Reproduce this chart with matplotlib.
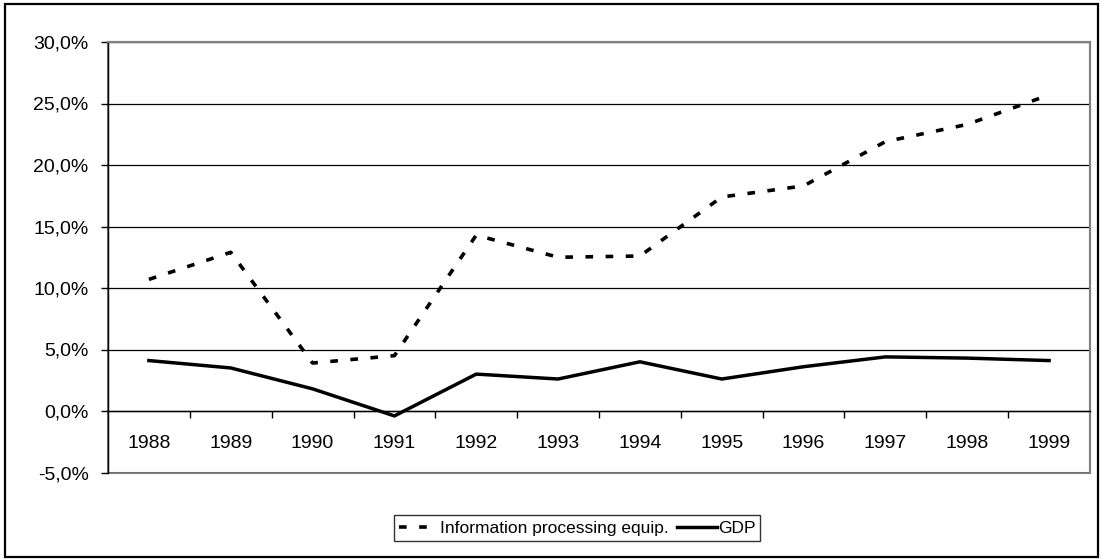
import matplotlib.pyplot as plt
from matplotlib.patches import Rectangle
from matplotlib.ticker import FixedLocator, FuncFormatter

plt.rcParams['font.family'] = ['Liberation Sans', 'DejaVu Sans']
plt.rcParams['lines.scale_dashes'] = False

# Data
years = ['1988', '1989', '1990', '1991', '1992', '1993',
         '1994', '1995', '1996', '1997', '1998', '1999']
info_equip = [10.7, 12.9, 3.9, 4.5, 14.3, 12.5, 12.6, 17.4, 18.3, 21.9, 23.3, 25.7]
gdp = [4.1, 3.5, 1.8, -0.4, 3.0, 2.6, 4.0, 2.6, 3.6, 4.4, 4.3, 4.1]
y_ticks = [-5, 0, 5, 10, 15, 20, 25, 30]

fig = plt.figure(figsize=(11.02, 5.59), dpi=100)
ax = fig.add_axes([108 / 1102, 86.5 / 559, 982 / 1102, 430.5 / 559])

x = list(range(len(years)))
l1, = ax.plot(x, info_equip, color='black', lw=2.6, dashes=(5.5, 9),
              label='Information processing equip.', zorder=4)
l2, = ax.plot(x, gdp, color='black', lw=2.5, label='GDP', zorder=4)

ax.set_xlim(-0.5, len(years) - 0.5)
ax.set_ylim(-5, 30)

# y axis
ax.set_yticks(y_ticks)
ax.yaxis.set_major_formatter(FuncFormatter(lambda v, p: ('%.1f%%' % v).replace('.', ',')))
ax.tick_params(axis='y', direction='out', length=5, width=1, labelsize=14, pad=9)
ax.yaxis.grid(True, color='black', lw=0.9)
ax.set_axisbelow(True)

# x axis sits on 0
ax.spines['bottom'].set_position(('data', 0))
ax.spines['bottom'].set_color('black')
ax.spines['bottom'].set_linewidth(1)
ax.set_xticks(x)
ax.set_xticklabels(years)
ax.xaxis.set_minor_locator(FixedLocator([i + 0.5 for i in x[:-1]]))
ax.tick_params(axis='x', which='major', length=0, labelsize=14, pad=17)
ax.tick_params(axis='x', which='minor', direction='out', length=5, width=1)

ax.spines['left'].set_color('black')
ax.spines['left'].set_linewidth(1)
for s in ['top', 'right']:
    ax.spines[s].set_color('#808080')
    ax.spines[s].set_linewidth(1.5)
ax.add_patch(Rectangle((0, 0), 1, 1, transform=ax.transAxes, fill=False,
                       ec='#808080', lw=1.5, clip_on=False, zorder=0))

# legend
leg = fig.legend(handles=[l1, l2], loc='center', bbox_to_anchor=(577 / 1102, 31 / 559),
                 ncol=2, fontsize=12.5, frameon=True, fancybox=False,
                 edgecolor='black', handlelength=2.3, handletextpad=0.05,
                 columnspacing=0.5, borderpad=0.3)
leg.get_frame().set_linewidth(1)

# outer frame
fig.add_artist(Rectangle((5 / 1102, 2 / 559), 1093 / 1102, 553 / 559,
                         transform=fig.transFigure, fill=False, ec='black', lw=1.6))

fig.savefig('out.png', dpi=100)
